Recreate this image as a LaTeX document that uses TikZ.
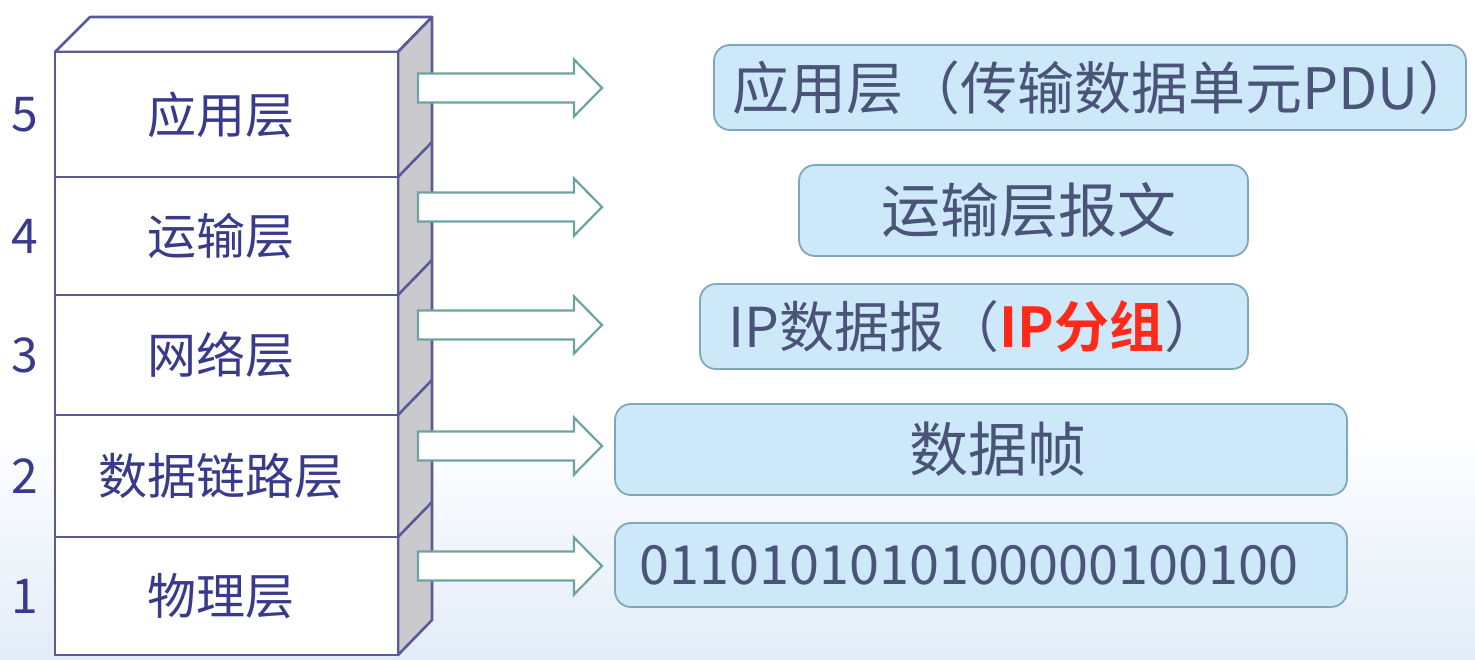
\documentclass[tikz,border=0pt]{standalone}
\usepackage{fontspec}
\newfontfamily\cjk{Noto Sans CJK SC}
\newfontfamily\cjkb{Noto Sans CJK SC Bold}
\definecolor{edge}{HTML}{5A5A98}
\definecolor{lbl}{HTML}{3A3A8C}
\definecolor{side}{HTML}{CACACE}
\definecolor{boxfill}{HTML}{CDE8F8}
\definecolor{boxedge}{HTML}{7FA8B8}
\definecolor{boxtxt}{HTML}{4A5478}
\definecolor{arredge}{HTML}{6FA3A0}
\definecolor{hot}{HTML}{FF2A1A}
\definecolor{bgblue}{HTML}{E2ECF7}
\tikzset{
  layer/.style={draw=edge, line width=2.6pt, fill=white, inner sep=0pt, minimum width=343pt,
    font=\cjk\fontsize{49}{52}\selectfont, text=lbl},
  num/.style={font=\cjk\fontsize{48}{52}\selectfont, text=lbl, inner sep=0pt},
  pdu/.style={draw=boxedge, line width=1.8pt, fill=boxfill, rounded corners=16pt, inner sep=0pt,
    text=boxtxt},
  blk/.style={draw=arredge, line width=2.2pt, fill=white, line join=miter},
}
\newcommand{\lft}[1]{#1\hspace*{12pt}}
\begin{document}
\begin{tikzpicture}[x=1pt,y=-1pt]
\useasboundingbox (0,0) rectangle (1475,660);
\fill[white] (0,0) rectangle (1475,660);
\shade[top color=white, bottom color=bgblue] (0,430) rectangle (1475,660);

% top and side faces of the stack
\filldraw[fill=white, draw=edge, line width=2.6pt, line join=round]
  (55,52) -- (90,17) -- (432,17) -- (398,52) -- cycle;
\filldraw[fill=side, draw=edge, line width=2.6pt, line join=round]
  (398,52) -- (432,17) -- (432,620) -- (398,655) -- cycle;
\foreach \yy in {177,295,415,537}
  \draw[edge, line width=2.6pt] (398,\yy) -- (432,\yy-35);

% layers (front face)
\node[layer, minimum height=125pt] (l5) at (226.5,114.5) {\lft{应用层}};
\node[layer, minimum height=118pt] (l4) at (226.5,236) {\lft{运输层}};
\node[layer, minimum height=120pt] (l3) at (226.5,355) {\lft{网络层}};
\node[layer, minimum height=122pt] (l2) at (226.5,476) {\lft{数据链路层}};
\node[layer, minimum height=118pt] (l1) at (226.5,596) {\lft{物理层}};

% layer numbers
\node[num] (n5) at (25,115) {5};
\node[num] (n4) at (25,236) {4};
\node[num] (n3) at (25,355) {3};
\node[num] (n2) at (25,476) {2};
\node[num] (n1) at (25,596) {1};

% block arrows
\foreach \yy in {88,207,325,446,566}
  \draw[blk] (418,\yy-14.5) -- (574,\yy-14.5) -- (574,\yy-28.5) -- (602,\yy)
    -- (574,\yy+28.5) -- (574,\yy+14.5) -- (418,\yy+14.5) -- cycle;

% data units
\node[pdu, minimum width=752pt, minimum height=85pt, font=\cjk\fontsize{57}{60}\selectfont]
  (p5) at (1090,87.5) {\hspace*{11pt}应用层（传输数据单元PDU）\hspace*{-17pt}};
\node[pdu, minimum width=449pt, minimum height=91pt, font=\cjk\fontsize{59}{62}\selectfont]
  (p4) at (1023.5,210.5) {\hspace*{10pt}运输层报文};
\node[pdu, minimum width=548pt, minimum height=85pt, font=\cjk\fontsize{55}{58}\selectfont]
  (p3) at (974,326.5) {IP数据报（{\cjkb\color{hot}IP分组}）};
\node[pdu, minimum width=732pt, minimum height=91pt, font=\cjk\fontsize{59}{62}\selectfont]
  (p2) at (981,449.5) {\hspace*{34pt}数据帧};
\node[pdu, minimum width=732pt, minimum height=84pt, font=\cjk\fontsize{54}{58}\selectfont]
  (p1) at (981,565) {0110101010100000100100\hspace*{24pt}};
\end{tikzpicture}
\end{document}
